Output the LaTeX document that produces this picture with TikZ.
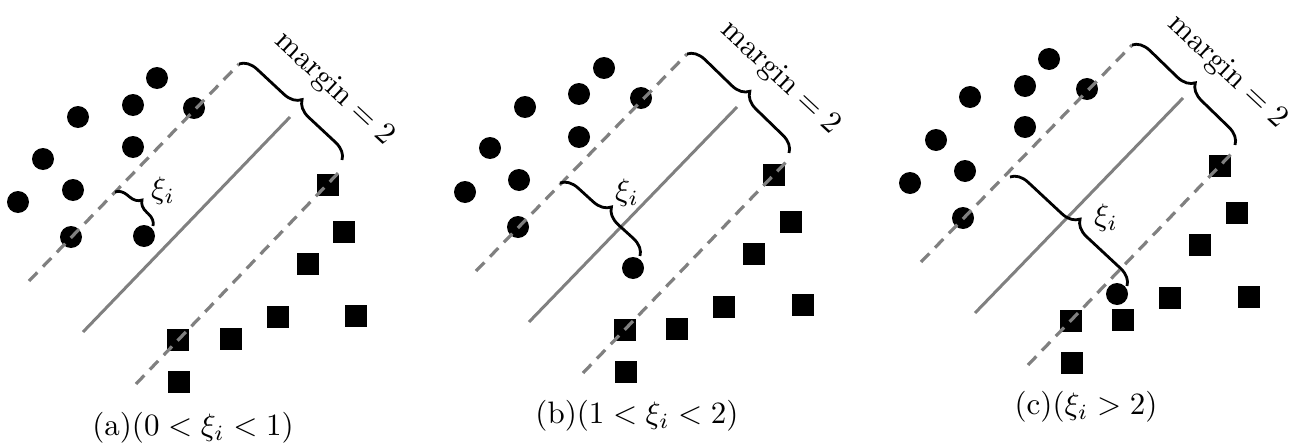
\documentclass[tikz,border=0pt]{standalone}
\usetikzlibrary{decorations.pathreplacing}
\begin{document}
\begin{tikzpicture}[x=1pt,y=-1pt,
  dot/.style={circle,fill=black,inner sep=0pt,minimum size=22pt},
  sq/.style={rectangle,fill=black,inner sep=0pt,minimum size=22pt},
  sepline/.style={draw=gray,line width=3.2pt,dash pattern=on 12pt off 8pt},
  hyper/.style={draw=gray,line width=3pt},
  bracebig/.style={draw=black,line width=2.8pt,decorate,decoration={brace,amplitude=17pt}},
  bracesmall/.style={draw=black,line width=2.8pt,decorate,decoration={brace,amplitude=12pt}},
  lbl/.style={inner sep=0pt,scale=3.1},
]
\useasboundingbox (0,0) rectangle (1293,444);
% ---------------- panel (a)
\foreach \n/\p in {a1/{157,78},a2/{78,117},a3/{133,105},a4/{194,108},a5/{43,159},a6/{133,147},a7/{73,190},a8/{18,202},a9/{71,237},a10/{144,236}}
  \node[dot] (\n) at (\p) {};
\foreach \n/\p in {as1/{328,185},as2/{344,232},as3/{308,264},as4/{356,316},as5/{278,317},as6/{231,339},as7/{178,340},as8/{179,382}}
  \node[sq] (\n) at (\p) {};
\coordinate (au1) at (29,281); \coordinate (au2) at (239,64);
\coordinate (ah1) at (83,332); \coordinate (ah2) at (290,117);
\coordinate (al1) at (136,384); \coordinate (al2) at (343,168);
\draw[sepline] (au1) -- (au2);
\draw[hyper] (ah1) -- (ah2);
\draw[sepline] (al1) -- (al2);
\coordinate (amb) at (342,160);
\draw[bracebig] (au2) -- (amb);
\node[lbl,rotate=-43] (amt) at (334,89) {$\mathrm{margin}=2$};
\coordinate (axa) at (115,192); \coordinate (axb) at (153,226);
\draw[bracesmall] (axa) -- (axb);
\node[lbl] (axl) at (163,191) {$\xi_i$};
\node[lbl] (acap) at (193,428) {(a)$(0<\xi_i<1)$};
% ---------------- panel (b)
\foreach \n/\p in {b1/{604,68},b2/{525,107},b3/{579,94},b4/{641,98},b5/{490,148},b6/{579,137},b7/{519,180},b8/{465,192},b9/{518,227},b10/{633,268}}
  \node[dot] (\n) at (\p) {};
\foreach \n/\p in {bs1/{774,175},bs2/{791,222},bs3/{754,254},bs4/{803,305},bs5/{724,307},bs6/{677,329},bs7/{625,330},bs8/{626,372}}
  \node[sq] (\n) at (\p) {};
\coordinate (bu1) at (476,271); \coordinate (bu2) at (687,54);
\coordinate (bh1) at (529,322); \coordinate (bh2) at (737,107);
\coordinate (bl1) at (583,373); \coordinate (bl2) at (790,158);
\draw[sepline] (bu1) -- (bu2);
\draw[hyper] (bh1) -- (bh2);
\draw[sepline] (bl1) -- (bl2);
\coordinate (bmb) at (789,153);
\draw[bracebig] (bu2) -- (bmb);
\node[lbl,rotate=-43] (bmt) at (780,78) {$\mathrm{margin}=2$};
\coordinate (bxa) at (560,183); \coordinate (bxb) at (640,256);
\draw[bracebig] (bxa) -- (bxb);
\node[lbl] (bxl) at (627,193) {$\xi_i$};
\node[lbl] (bcap) at (637,416) {(b)$(1<\xi_i<2)$};
% ---------------- panel (c)
\foreach \n/\p in {c1/{1049,59},c2/{970,97},c3/{1025,86},c4/{1087,89},c5/{936,140},c6/{1025,127},c7/{965,171},c8/{910,183},c9/{963,218},c10/{1117,294}}
  \node[dot] (\n) at (\p) {};
\foreach \n/\p in {cs1/{1220,166},cs2/{1237,213},cs3/{1200,245},cs4/{1249,297},cs5/{1170,298},cs6/{1123,320},cs7/{1071,321},cs8/{1072,363}}
  \node[sq] (\n) at (\p) {};
\coordinate (cu1) at (921,262); \coordinate (cu2) at (1132,45);
\coordinate (ch1) at (975,313); \coordinate (ch2) at (1183,98);
\coordinate (cl1) at (1028,365); \coordinate (cl2) at (1236,149);
\draw[sepline] (cu1) -- (cu2);
\draw[hyper] (ch1) -- (ch2);
\draw[sepline] (cl1) -- (cl2);
\coordinate (cmb) at (1235,145);
\draw[bracebig] (cu2) -- (cmb);
\node[lbl,rotate=-43] (cmt) at (1227,72) {$\mathrm{margin}=2$};
\coordinate (cxa) at (1010,177); \coordinate (cxb) at (1127,286);
\draw[bracebig] (cxa) -- (cxb);
\node[lbl] (cxl) at (1106,218) {$\xi_i$};
\node[lbl] (ccap) at (1086,407) {(c)$(\xi_i>2)$};
\end{tikzpicture}
\end{document}
